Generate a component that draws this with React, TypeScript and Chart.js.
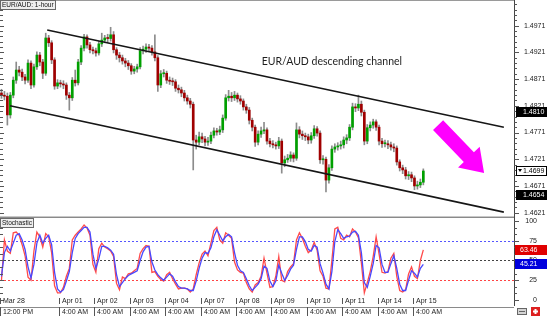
import React, { useEffect, useRef } from 'react';
import { Chart, registerables } from 'chart.js';

Chart.register(...registerables);

// ---------- DATA (2-hour candles) ----------
const firstOpen = 1.4845;
const closes = [
  1.4841, 1.4839, 1.4804, 1.4841, 1.4869, 1.4888, 1.4884, 1.4875, 1.4869, 1.4901,
  1.4860, 1.4894, 1.4916, 1.4903, 1.4882, 1.4948, 1.4939, 1.4907, 1.4858, 1.4864,
  1.4862, 1.4860, 1.4841, 1.4836, 1.4869, 1.4864, 1.4903, 1.4929, 1.4950, 1.4935,
  1.4926, 1.4924, 1.4920, 1.4937, 1.4944, 1.4948, 1.4947, 1.4954, 1.4926, 1.4916,
  1.4911, 1.4905, 1.4901, 1.4896, 1.4886, 1.4890, 1.4894, 1.4924, 1.4927, 1.4931,
  1.4929, 1.4922, 1.4911, 1.4860, 1.4881, 1.4882, 1.4869, 1.4867, 1.4866, 1.4854,
  1.4851, 1.4845, 1.4836, 1.4830, 1.4824, 1.4757, 1.4753, 1.4763, 1.4759, 1.4753,
  1.4755, 1.4766, 1.4774, 1.4772, 1.4776, 1.4798, 1.4836, 1.4839, 1.4836, 1.4841,
  1.4834, 1.4830, 1.4819, 1.4813, 1.4794, 1.4781, 1.4753, 1.4768, 1.4774, 1.4776,
  1.4755, 1.4750, 1.4748, 1.4746, 1.4755, 1.4714, 1.4720, 1.4723, 1.4729, 1.4723,
  1.4776, 1.4768, 1.4765, 1.4763, 1.4757, 1.4765, 1.4778, 1.4770, 1.4720, 1.4721,
  1.4682, 1.4705, 1.4740, 1.4744, 1.4746, 1.4748, 1.4757, 1.4761, 1.4781, 1.4819,
  1.4817, 1.4824, 1.4809, 1.4755, 1.4780, 1.4785, 1.4791, 1.4781, 1.4755, 1.4750,
  1.4750, 1.4748, 1.4744, 1.4742, 1.4716, 1.4705, 1.4701, 1.4690, 1.4692, 1.4686,
  1.4671, 1.4673, 1.4678, 1.4699,
];
const highs = [
  1.4852, 1.4848, 1.4845, 1.4846, 1.4875, 1.4903, 1.4895, 1.4890, 1.4880, 1.4907,
  1.4905, 1.4899, 1.4922, 1.4921, 1.4908, 1.4957, 1.4953, 1.4943, 1.4911, 1.4870,
  1.4869, 1.4868, 1.4864, 1.4846, 1.4874, 1.4888, 1.4908, 1.4934, 1.4955, 1.4954,
  1.4940, 1.4931, 1.4929, 1.4942, 1.4957, 1.4953, 1.4955, 1.4968, 1.4960, 1.4930,
  1.4921, 1.4916, 1.4910, 1.4906, 1.4900, 1.4895, 1.4899, 1.4930, 1.4933, 1.4937,
  1.4936, 1.4934, 1.4954, 1.4915, 1.4887, 1.4889, 1.4886, 1.4875, 1.4873, 1.4870,
  1.4860, 1.4856, 1.4850, 1.4841, 1.4835, 1.4828, 1.4766, 1.4772, 1.4770, 1.4764,
  1.4762, 1.4772, 1.4780, 1.4779, 1.4783, 1.4804, 1.4842, 1.4850, 1.4846, 1.4848,
  1.4845, 1.4840, 1.4834, 1.4824, 1.4818, 1.4798, 1.4785, 1.4774, 1.4781, 1.4790,
  1.4780, 1.4760, 1.4756, 1.4753, 1.4762, 1.4759, 1.4727, 1.4730, 1.4735, 1.4733,
  1.4789, 1.4782, 1.4774, 1.4770, 1.4768, 1.4771, 1.4784, 1.4782, 1.4774, 1.4728,
  1.4725, 1.4711, 1.4746, 1.4750, 1.4752, 1.4755, 1.4763, 1.4767, 1.4786, 1.4826,
  1.4825, 1.4841, 1.4830, 1.4813, 1.4786, 1.4791, 1.4796, 1.4795, 1.4785, 1.4760,
  1.4757, 1.4756, 1.4753, 1.4750, 1.4746, 1.4720, 1.4710, 1.4706, 1.4698, 1.4697,
  1.4690, 1.4680, 1.4684, 1.4703,
];
const lows = [
  1.4835, 1.4832, 1.4785, 1.4798, 1.4836, 1.4863, 1.4877, 1.4868, 1.4862, 1.4865,
  1.4853, 1.4856, 1.4889, 1.4896, 1.4872, 1.4878, 1.4932, 1.4900, 1.4852, 1.4853,
  1.4856, 1.4853, 1.4833, 1.4813, 1.4831, 1.4858, 1.4860, 1.4898, 1.4924, 1.4929,
  1.4920, 1.4918, 1.4914, 1.4916, 1.4932, 1.4939, 1.4940, 1.4942, 1.4920, 1.4908,
  1.4903, 1.4899, 1.4894, 1.4889, 1.4880, 1.4881, 1.4884, 1.4890, 1.4918, 1.4921,
  1.4923, 1.4916, 1.4905, 1.4848, 1.4855, 1.4875, 1.4863, 1.4861, 1.4859, 1.4848,
  1.4845, 1.4838, 1.4830, 1.4824, 1.4817, 1.4701, 1.4740, 1.4748, 1.4752, 1.4746,
  1.4747, 1.4750, 1.4761, 1.4766, 1.4767, 1.4771, 1.4794, 1.4830, 1.4829, 1.4831,
  1.4828, 1.4824, 1.4813, 1.4807, 1.4787, 1.4774, 1.4745, 1.4748, 1.4762, 1.4769,
  1.4749, 1.4744, 1.4742, 1.4740, 1.4741, 1.4695, 1.4707, 1.4715, 1.4717, 1.4716,
  1.4719, 1.4761, 1.4758, 1.4756, 1.4750, 1.4751, 1.4760, 1.4764, 1.4713, 1.4712,
  1.4660, 1.4676, 1.4700, 1.4734, 1.4738, 1.4740, 1.4742, 1.4750, 1.4756, 1.4776,
  1.4810, 1.4812, 1.4802, 1.4748, 1.4750, 1.4774, 1.4779, 1.4775, 1.4748, 1.4743,
  1.4744, 1.4741, 1.4738, 1.4735, 1.4710, 1.4699, 1.4694, 1.4684, 1.4683, 1.4679,
  1.4664, 1.4665, 1.4668, 1.4673,
];

const stochK = [
  25, 76, 62, 59, 85, 86, 82, 70, 56, 29, 25, 62, 86, 80, 67, 84, 80, 60, 18, 9,
  9, 16, 30, 40, 76, 82, 86, 90, 95, 91, 82, 45, 35, 65, 72, 67, 65, 62, 55, 21,
  13, 29, 27, 33, 34, 37, 40, 59, 65, 69, 68, 35, 36, 30, 26, 24, 32, 35, 27, 20,
  14, 15, 15, 14, 10, 14, 32, 47, 58, 62, 56, 72, 88, 92, 76, 72, 85, 82, 78, 48,
  38, 35, 34, 22, 14, 10, 19, 22, 30, 53, 34, 16, 17, 30, 55, 25, 23, 36, 42, 46,
  76, 85, 78, 68, 60, 63, 73, 63, 37, 30, 15, 14, 50, 90, 92, 78, 76, 82, 80, 90,
  86, 79, 47, 9, 22, 36, 55, 80, 58, 35, 34, 36, 53, 59, 30, 12, 10, 13, 33, 42,
  30, 27, 50, 63.46,
];
const stochD = [
  30, 60, 68, 62, 72, 82, 84, 76, 64, 42, 28, 45, 72, 82, 72, 78, 82, 70, 35, 14,
  10, 13, 24, 36, 60, 78, 84, 88, 92, 92, 86, 58, 40, 52, 68, 68, 66, 63, 58, 32,
  17, 22, 27, 31, 33, 35, 37, 50, 61, 67, 68, 48, 38, 32, 28, 25, 29, 33, 30, 23,
  17, 15, 15, 14, 12, 12, 24, 40, 53, 60, 59, 66, 80, 89, 82, 75, 80, 83, 80, 60,
  44, 37, 35, 27, 18, 12, 16, 20, 27, 43, 40, 24, 17, 24, 44, 34, 25, 31, 39, 44,
  64, 80, 80, 74, 64, 62, 69, 67, 46, 34, 20, 14, 36, 74, 89, 84, 78, 80, 81, 86,
  87, 82, 60, 22, 16, 30, 46, 69, 66, 45, 35, 35, 46, 56, 40, 20, 12, 12, 25, 37,
  34, 29, 40, 45.21,
];

const dayLabels = ['Mar 28', 'Apr 01', 'Apr 02', 'Apr 03', 'Apr 04', 'Apr 07', 'Apr 08', 'Apr 09', 'Apr 10', 'Apr 11', 'Apr 14', 'Apr 15'];
const dayStartCandle = [0, 20, 32, 44, 56, 68, 80, 92, 104, 116, 128, 140];
const timeLabels = ['12:00 PM', '4:00 AM', '4:00 AM', '4:00 AM', '4:00 AM', '4:00 AM', '4:00 AM', '4:00 AM', '4:00 AM', '4:00 AM', '4:00 AM', '4:00 AM'];

const priceTickLabels = [1.4621, 1.4671, 1.4721, 1.4771, 1.4821, 1.4871, 1.4921, 1.4971];
const priceMinorStep = 0.001;
const stochTickLabels = [0, 25, 50, 75, 100];
const stochLevels = [75, 50, 25];
const stochLevelColors = ['#5555ff', '#444444', '#ff4444'];

const upperChannel = [{ x: 15.5, y: 1.4963 }, { x: 170.3, y: 1.4781 }];
const lowerChannel = [{ x: 2.9, y: 1.4821 }, { x: 170.3, y: 1.4622 }];
const arrowFrom = { x: 148, y: 1.4785 };
const arrowTo = { x: 163.6, y: 1.46953 };
const titleAt = { x: 112, y: 1.4903 };
const titleText = 'EUR/AUD descending channel';
const headerText = 'EUR/AUD: 1-hour';
const priceBadges = [
  { v: 1.481, dark: true },
  { v: 1.4699, dark: false },
  { v: 1.4654, dark: true },
];

// ---------- STYLE ----------
const FONT = "'Liberation Sans Narrow', 'Liberation Sans', Arial, sans-serif";
const UP = '#00a000';
const DOWN = '#a00000';
const WICK = '#8c8c8c';
const X_MIN = -0.5;
const X_MAX = -0.5 + 514 / 2.95;

function hline(ctx: CanvasRenderingContext2D, x1: number, x2: number, y: number) {
  ctx.beginPath();
  ctx.moveTo(x1, y);
  ctx.lineTo(x2, y);
  ctx.stroke();
}
function vline(ctx: CanvasRenderingContext2D, x: number, y1: number, y2: number) {
  ctx.beginPath();
  ctx.moveTo(x, y1);
  ctx.lineTo(x, y2);
  ctx.stroke();
}
function labelBox(ctx: CanvasRenderingContext2D, text: string, x: number, y: number) {
  ctx.font = `6.5px ${FONT}`;
  const w = Math.ceil(ctx.measureText(text).width) + 4;
  ctx.fillStyle = '#efefef';
  ctx.fillRect(x, y, w, 10);
  ctx.strokeStyle = '#6a6a6a';
  ctx.strokeRect(x + 0.5, y + 0.5, w - 1, 9);
  ctx.fillStyle = '#111';
  ctx.textAlign = 'left';
  ctx.textBaseline = 'middle';
  ctx.fillText(text, x + 2, y + 5.5);
}

const mainDecor = {
  id: 'mainDecor',
  afterDraw(chart: any) {
    const ctx: CanvasRenderingContext2D = chart.ctx;
    const a = chart.chartArea;
    const xs = chart.scales.x;
    const ys = chart.scales.y;
    ctx.save();
    ctx.lineWidth = 1;
    // frame
    ctx.strokeStyle = '#9a9a9a';
    hline(ctx, 0, a.right, 0.5);
    ctx.strokeStyle = '#c8c8c8';
    hline(ctx, 0, a.right, a.bottom - 0.5);
    ctx.strokeStyle = '#8a8a8a';
    hline(ctx, 0, a.right, a.bottom + 0.5);
    ctx.strokeStyle = '#444';
    vline(ctx, a.right + 0.5, 0, chart.height);
    // ticks
    ctx.strokeStyle = '#555';
    const base = priceTickLabels[0];
    for (let k = -5; k <= 45; k++) {
      const v = base + k * priceMinorStep;
      if (v < ys.min || v > ys.max) continue;
      const y = Math.round(ys.getPixelForValue(v)) + 0.5;
      const major = k % 5 === 0;
      hline(ctx, a.right, a.right + (major ? 5 : 3), y);
      hline(ctx, 0, major ? 4 : 3, y);
    }
    // labels
    ctx.fillStyle = '#1a1a1a';
    ctx.font = `7px ${FONT}`;
    ctx.textAlign = 'left';
    ctx.textBaseline = 'middle';
    priceTickLabels.forEach((v) => ctx.fillText(v.toFixed(4), a.right + 10, ys.getPixelForValue(v)));
    // badges
    priceBadges.forEach((b) => {
      const y = Math.round(ys.getPixelForValue(b.v));
      const bx = a.right + 2;
      const bw = chart.width - bx;
      if (b.dark) {
        ctx.fillStyle = '#000';
        ctx.fillRect(bx, y - 5, bw, 10);
        ctx.fillStyle = '#fff';
      } else {
        ctx.fillStyle = '#fff';
        ctx.fillRect(bx, y - 5, bw, 10);
        ctx.strokeStyle = '#000';
        ctx.strokeRect(bx + 0.5, y - 4.5, bw - 1, 9);
        ctx.fillStyle = '#000';
        ctx.beginPath();
        ctx.moveTo(bx + 2, y - 2);
        ctx.lineTo(bx + 6, y - 2);
        ctx.lineTo(bx + 4, y + 1);
        ctx.closePath();
        ctx.fill();
      }
      ctx.fillText(b.v.toFixed(4), a.right + 9, y + 0.5);
    });
    // title
    ctx.fillStyle = '#1e1e1e';
    ctx.font = `10.5px Lato, 'Open Sans', sans-serif`;
    ctx.textAlign = 'center';
    ctx.fillText(titleText, xs.getPixelForValue(titleAt.x), ys.getPixelForValue(titleAt.y));
    // arrow
    const p0 = { x: xs.getPixelForValue(arrowFrom.x), y: ys.getPixelForValue(arrowFrom.y) };
    const p1 = { x: xs.getPixelForValue(arrowTo.x), y: ys.getPixelForValue(arrowTo.y) };
    const dx = p1.x - p0.x;
    const dy = p1.y - p0.y;
    const len = Math.hypot(dx, dy);
    const ux = dx / len;
    const uy = dy / len;
    const nx = -uy;
    const ny = ux;
    const headLen = 22;
    const headHalf = 15;
    const shaftHalf = 7;
    const bxp = p1.x - ux * headLen;
    const byp = p1.y - uy * headLen;
    ctx.fillStyle = '#ff00ff';
    ctx.beginPath();
    ctx.moveTo(p0.x + nx * shaftHalf, p0.y + ny * shaftHalf);
    ctx.lineTo(bxp + nx * shaftHalf, byp + ny * shaftHalf);
    ctx.lineTo(bxp + nx * headHalf, byp + ny * headHalf);
    ctx.lineTo(p1.x, p1.y);
    ctx.lineTo(bxp - nx * headHalf, byp - ny * headHalf);
    ctx.lineTo(bxp - nx * shaftHalf, byp - ny * shaftHalf);
    ctx.lineTo(p0.x - nx * shaftHalf, p0.y - ny * shaftHalf);
    ctx.closePath();
    ctx.fill();
    // header
    labelBox(ctx, headerText, 0, 0);
    ctx.restore();
  },
};

const stochDecor = {
  id: 'stochDecor',
  beforeDatasetsDraw(chart: any) {
    const ctx: CanvasRenderingContext2D = chart.ctx;
    const a = chart.chartArea;
    const ys = chart.scales.y;
    ctx.save();
    ctx.lineWidth = 1;
    ctx.setLineDash([2, 2]);
    stochLevels.forEach((lv, i) => {
      ctx.strokeStyle = stochLevelColors[i];
      hline(ctx, 0, a.right, Math.round(ys.getPixelForValue(lv)) + 0.5);
    });
    ctx.restore();
  },
  afterDraw(chart: any) {
    const ctx: CanvasRenderingContext2D = chart.ctx;
    const a = chart.chartArea;
    const xs = chart.scales.x;
    const ys = chart.scales.y;
    ctx.save();
    ctx.lineWidth = 1;
    ctx.strokeStyle = '#444';
    vline(ctx, a.right + 0.5, 0, a.bottom);
    ctx.strokeStyle = '#555';
    for (let k = 0; k <= 12; k++) {
      const v = (k * 25) / 3;
      const y = Math.round(ys.getPixelForValue(v)) + 0.5;
      const major = k % 3 === 0;
      hline(ctx, a.right, a.right + (major ? 5 : 3), y);
      hline(ctx, 0, major ? 4 : 3, y);
    }
    ctx.fillStyle = '#1a1a1a';
    ctx.font = `7px ${FONT}`;
    ctx.textAlign = 'right';
    ctx.textBaseline = 'middle';
    stochTickLabels.forEach((v) => ctx.fillText(String(v), a.right + 23, ys.getPixelForValue(v)));
    // badges
    const bx = a.right + 1;
    const bw = chart.width - bx;
    const badges = [
      { v: stochK[stochK.length - 1], bg: '#e00000' },
      { v: stochD[stochD.length - 1], bg: '#0000dd' },
    ];
    ctx.textAlign = 'left';
    badges.forEach((b) => {
      const y = Math.round(ys.getPixelForValue(b.v));
      ctx.fillStyle = b.bg;
      ctx.fillRect(bx, y - 5, bw, 10);
      ctx.fillStyle = '#fff';
      ctx.fillText(b.v.toFixed(2), a.right + 6, y + 0.5);
    });
    // header
    labelBox(ctx, 'Stochastic', 0, 0);
    // x axis: dates
    ctx.font = `7px ${FONT}`;
    ctx.textAlign = 'left';
    ctx.textBaseline = 'middle';
    const rowTop = a.bottom + 1;
    ctx.strokeStyle = '#8a8a8a';
    hline(ctx, 0, a.right, rowTop + 0.5);
    dayStartCandle.forEach((c, i) => {
      const x = Math.round(xs.getPixelForValue(c - 0.5)) + 0.5;
      ctx.strokeStyle = '#555';
      vline(ctx, x, a.bottom - 8, a.bottom - 2);
      vline(ctx, x, rowTop, chart.height);
      ctx.fillStyle = '#222';
      ctx.fillText(dayLabels[i], x + 2.5, a.bottom - 4.5);
      ctx.fillText(timeLabels[i], x + 2.5, rowTop + 5.5);
    });
    // icons
    ctx.fillStyle = '#d4d4d4';
    ctx.fillRect(a.right + 3, rowTop + 1, 10, 7);
    ctx.strokeStyle = '#666';
    ctx.strokeRect(a.right + 3.5, rowTop + 1.5, 9, 6);
    hline(ctx, a.right + 5, a.right + 11, rowTop + 4.5);
    ctx.fillStyle = '#dd2020';
    ctx.fillRect(a.right + 17, rowTop + 0, 9, 9);
    ctx.fillStyle = '#fff';
    ctx.fillRect(a.right + 20.5, rowTop + 2, 2, 5);
    ctx.fillRect(a.right + 19, rowTop + 3.5, 5, 2);
    ctx.restore();
  },
};

export default function App() {
  const mainRef = useRef<HTMLCanvasElement>(null);
  const stochRef = useRef<HTMLCanvasElement>(null);

  useEffect(() => {
    const opens = closes.map((c, i) => (i === 0 ? firstOpen : closes[i - 1]));
    const wickData = closes.map((_, i) => ({ x: i, y: [lows[i], highs[i]] }));
    const bodyData = closes.map((c, i) => ({ x: i, y: [opens[i], c] }));
    const bodyColors = closes.map((c, i) => (c >= opens[i] ? UP : DOWN));

    const main = new Chart(mainRef.current as HTMLCanvasElement, {
      type: 'bar',
      data: {
        datasets: [
          {
            type: 'line',
            data: upperChannel,
            borderColor: '#161616',
            borderWidth: 1.6,
            pointRadius: 0,
            order: 0,
          } as any,
          {
            type: 'line',
            data: lowerChannel,
            borderColor: '#161616',
            borderWidth: 1.6,
            pointRadius: 0,
            order: 0,
          } as any,
          {
            type: 'bar',
            data: bodyData as any,
            backgroundColor: bodyColors,
            barThickness: 2,
            minBarLength: 1,
            grouped: false,
            order: 1,
          } as any,
          {
            type: 'bar',
            data: wickData as any,
            backgroundColor: WICK,
            barThickness: 1,
            grouped: false,
            order: 2,
          } as any,
        ],
      },
      options: {
        animation: false,
        responsive: false,
        devicePixelRatio: 1,
        layout: { padding: { left: 0, right: 33, top: 0, bottom: 1 } },
        plugins: { legend: { display: false }, tooltip: { enabled: false } },
        scales: {
          x: { type: 'linear', min: X_MIN, max: X_MAX, display: false, offset: false },
          y: { type: 'linear', min: 1.46129, max: 1.50191, display: false },
        },
      } as any,
      plugins: [mainDecor],
    });

    const stoch = new Chart(stochRef.current as HTMLCanvasElement, {
      type: 'line',
      data: {
        datasets: [
          {
            data: stochD.map((v, i) => ({ x: i, y: v })),
            borderColor: '#4848ff',
            borderWidth: 1.3,
            pointRadius: 0,
          },
          {
            data: stochK.map((v, i) => ({ x: i, y: v })),
            borderColor: '#ff4a4a',
            borderWidth: 1.3,
            pointRadius: 0,
          },
        ],
      },
      options: {
        animation: false,
        responsive: false,
        devicePixelRatio: 1,
        layout: { padding: { left: 0, right: 33, top: 0, bottom: 10 } },
        plugins: { legend: { display: false }, tooltip: { enabled: false } },
        scales: {
          x: { type: 'linear', min: X_MIN, max: X_MAX, display: false },
          y: { type: 'linear', min: -7.6, max: 103.8, display: false },
        },
      } as any,
      plugins: [stochDecor],
    });

    return () => {
      main.destroy();
      stoch.destroy();
    };
  }, []);

  return (
    <div style={{ position: 'fixed', left: 0, top: 0, width: 547, height: 316, background: '#fff' }}>
      <canvas ref={mainRef} width={547} height={218} style={{ display: 'block', width: 547, height: 218 }} />
      <canvas ref={stochRef} width={547} height={98} style={{ display: 'block', width: 547, height: 98 }} />
    </div>
  );
}
